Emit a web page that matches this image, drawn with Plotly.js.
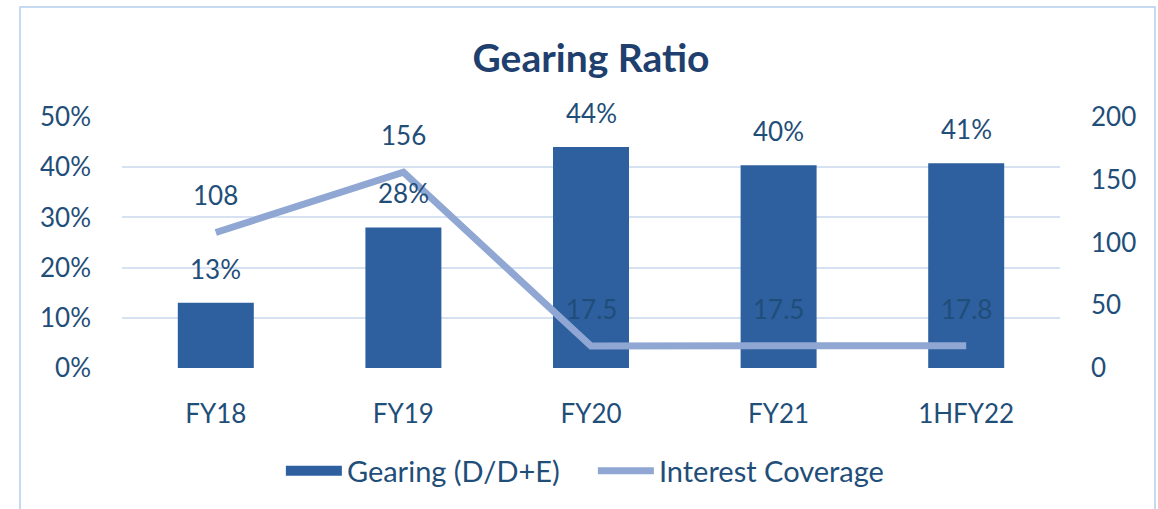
<!DOCTYPE html>
<html>
<head>
<meta charset="utf-8">
<script src="https://cdn.plot.ly/plotly-3.0.1.min.js"></script>
<style>
html,body{margin:0;padding:0;background:#fff;}
#chart{width:1158px;height:509px;}
</style>
</head>
<body>
<div id="chart"></div>
<script>
const categories = ["FY18", "FY19", "FY20", "FY21", "1HFY22"];
const gearing = [0.13, 0.28, 0.44, 0.404, 0.408];
const gearingLabels = ["13%", "28%", "44%", "40%", "41%"];
const coverage = [108, 156, 17.5, 17.5, 17.8];
const coverageLabels = ["108", "156", "17.5", "17.5", "17.8"];

const txtColor = "#1F4E79";
const barColor = "#2E5F9F";
const lineColor = "#8FA7D2";
const fontFam = "Lato, 'Open Sans', sans-serif";

const traces = [
  {
    type: "bar",
    name: "Gearing (D/D+E)",
    x: categories,
    y: gearing,
    yaxis: "y",
    width: 0.405,
    marker: {color: barColor},
    showlegend: false,
    hoverinfo: "skip"
  },
  {
    // legend proxy for the bar series (wide rectangle swatch)
    type: "scatter",
    mode: "lines",
    name: "Gearing (D/D+E)",
    x: [categories[0]],
    y: [null],
    yaxis: "y",
    line: {color: barColor, width: 14},
    hoverinfo: "skip"
  },
  {
    type: "scatter",
    mode: "lines",
    name: "Interest Coverage",
    x: categories,
    y: coverage,
    yaxis: "y2",
    line: {color: lineColor, width: 7},
    hoverinfo: "skip"
  }
];

const annotations = [];
categories.forEach((c, i) => {
  annotations.push({
    x: c, y: gearing[i], xref: "x", yref: "y",
    text: gearingLabels[i], showarrow: false,
    yanchor: "middle", yshift: 34,
    font: {family: fontFam, size: 26, color: txtColor}
  });
  annotations.push({
    x: c, y: coverage[i], xref: "x", yref: "y2",
    text: coverageLabels[i], showarrow: false,
    yanchor: "middle", yshift: 37,
    font: {family: fontFam, size: 26, color: txtColor}
  });
});

const layout = {
  width: 1158,
  height: 509,
  margin: {l: 122, r: 98, t: 117, b: 141},
  paper_bgcolor: "#ffffff",
  plot_bgcolor: "#ffffff",
  font: {family: fontFam, color: txtColor, size: 26},
  title: {
    text: "<b>Gearing Ratio</b>",
    x: 0.5, xref: "paper", xanchor: "center",
    y: 57, yref: "container", yanchor: "middle",
    font: {family: fontFam, size: 39, color: "#1F3F6E"}
  },
  showlegend: true,
  legend: {
    orientation: "h",
    x: 0.502, xanchor: "center",
    y: -0.41, yanchor: "middle",
    font: {family: fontFam, size: 29, color: txtColor},
    itemwidth: 56,
    entrywidth: 241,
    tracegroupgap: 0
  },
  xaxis: {
    type: "category",
    showgrid: false,
    showline: false,
    zeroline: false,
    ticks: "",
    ticklabelstandoff: 28,
    tickfont: {family: fontFam, size: 26, color: txtColor}
  },
  yaxis: {
    range: [0, 0.5],
    dtick: 0.1,
    tickformat: ".0%",
    showgrid: true,
    gridcolor: "#D6E2F2",
    gridwidth: 2,
    zeroline: false,
    showline: false,
    ticks: "",
    ticklabelstandoff: 30,
    tickfont: {family: fontFam, size: 26, color: txtColor}
  },
  yaxis2: {
    range: [0, 200],
    dtick: 50,
    overlaying: "y",
    side: "right",
    showgrid: false,
    zeroline: false,
    showline: false,
    ticks: "",
    ticklabelstandoff: 30,
    tickfont: {family: fontFam, size: 26, color: txtColor}
  },
  annotations: annotations,
  shapes: [{
    type: "rect", xref: "paper", yref: "paper",
    x0: -0.1087, x1: 1.1013, y0: -0.7, y1: 1.438,
    line: {color: "#C5D9F1", width: 2},
    fillcolor: "rgba(0,0,0,0)",
    layer: "below"
  }]
};

Plotly.newPlot("chart", traces, layout, {staticPlot: true, displayModeBar: false});
</script>
</body>
</html>
